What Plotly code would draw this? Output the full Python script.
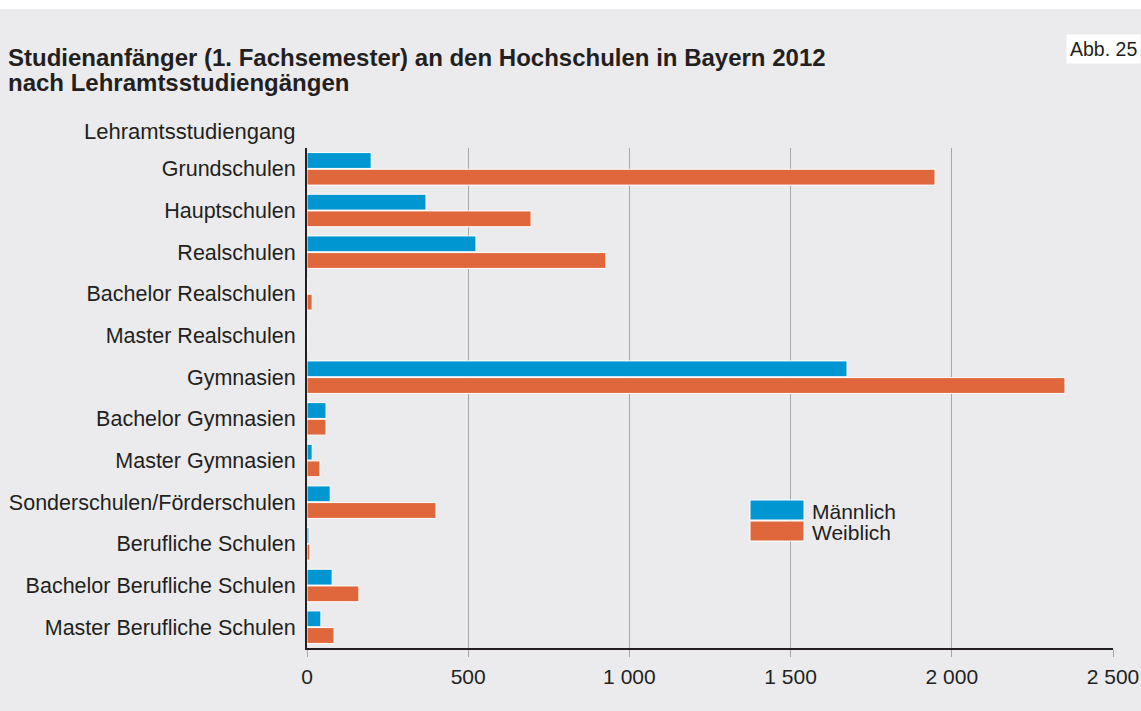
import plotly.graph_objects as go

categories = [
    "Grundschulen", "Hauptschulen", "Realschulen", "Bachelor Realschulen",
    "Master Realschulen", "Gymnasien", "Bachelor Gymnasien", "Master Gymnasien",
    "Sonderschulen/Förderschulen", "Berufliche Schulen",
    "Bachelor Berufliche Schulen", "Master Berufliche Schulen",
]
maennlich = [199, 369, 524, 1, 1, 1675, 59, 16, 72, 6, 78, 43]
weiblich = [1948, 695, 927, 16, 0, 2351, 59, 40, 400, 9, 161, 84]
x_ticks = [0, 500, 1000, 1500, 2000, 2500]

BLUE = "#0096d1"
ORANGE = "#e0663c"
BG = "#ebebed"
TXT = "#231f20"
FONT = "Liberation Sans, Arial, sans-serif"

# plot area in pixels: x 307..1113, y 148..648
def px(x):
    return (x - 307) / 806

def py(y):
    return (648 - y) / 500

fig = go.Figure()
fig.add_trace(go.Bar(
    y=categories, x=maennlich, orientation="h", name="Männlich",
    marker=dict(color=BLUE, line=dict(color="white", width=1)),
))
fig.add_trace(go.Bar(
    y=categories, x=weiblich, orientation="h", name="Weiblich",
    marker=dict(color=ORANGE, line=dict(color="white", width=1)),
))

# white strip on top, hand-drawn legend boxes
shapes = [
    dict(type="rect", xref="paper", yref="paper", x0=px(-5), x1=px(1150), y0=py(9), y1=py(-5),
         fillcolor="white", line=dict(width=0), layer="below"),
    dict(type="rect", xref="paper", yref="paper", x0=px(750), x1=px(804), y0=py(520), y1=py(500),
         fillcolor=BLUE, line=dict(color="white", width=1)),
    dict(type="rect", xref="paper", yref="paper", x0=px(750), x1=px(804), y0=py(541), y1=py(521),
         fillcolor=ORANGE, line=dict(color="white", width=1)),
]

def label(text, x, y, size, anchor="left", **kw):
    return dict(text=text, xref="paper", yref="paper", x=px(x), y=py(y),
                xanchor=anchor, yanchor="middle", showarrow=False,
                font=dict(size=size, color=TXT), **kw)

annotations = [
    label("<b>Studienanfänger (1. Fachsemester) an den Hochschulen in Bayern 2012</b>", 6, 57, 24),
    label("<b>nach Lehramtsstudiengängen</b>", 6, 82, 24),
    label("Abb. 25", 1141, 49, 19.5, anchor="right", bgcolor="white", borderpad=3),
    label("Lehramtsstudiengang", 298, 131, 22, anchor="right"),
    label("Männlich", 810, 511, 21),
    label("Weiblich", 810, 532, 21),
]

fig.update_layout(
    width=1141, height=711,
    margin=dict(l=307, r=28, t=148, b=63),
    paper_bgcolor=BG, plot_bgcolor=BG,
    font=dict(family=FONT, color=TXT, size=21),
    barmode="group", bargap=0.2, bargroupgap=0.05,
    showlegend=False,
    separators=", ",
    shapes=shapes,
    annotations=annotations,
)

fig.update_xaxes(
    range=[0, 2500], tickvals=x_ticks, tickformat=",d",
    showgrid=True, gridcolor="#a7a7a9", gridwidth=1,
    showline=True, linecolor=TXT, linewidth=1.5,
    ticks="outside", ticklen=7, tickcolor="#a7a7a9",
    zeroline=False, tickfont=dict(size=21, color=TXT),
    ticklabelstandoff=2, automargin=False,
)
fig.update_yaxes(
    autorange="reversed", showgrid=False,
    showline=True, linecolor=TXT, linewidth=2,
    ticks="", ticklabelstandoff=5, tickfont=dict(size=21.5, color=TXT),
    automargin=False,
)

# page without body margin / scrollbars so the figure sits at 0,0
post = (
    "document.documentElement.style.overflow='hidden';"
    "document.body.style.margin='0';"
    "document.body.style.overflow='hidden';"
)
fig.write_html("out.html", config={"displayModeBar": False}, post_script=post)
